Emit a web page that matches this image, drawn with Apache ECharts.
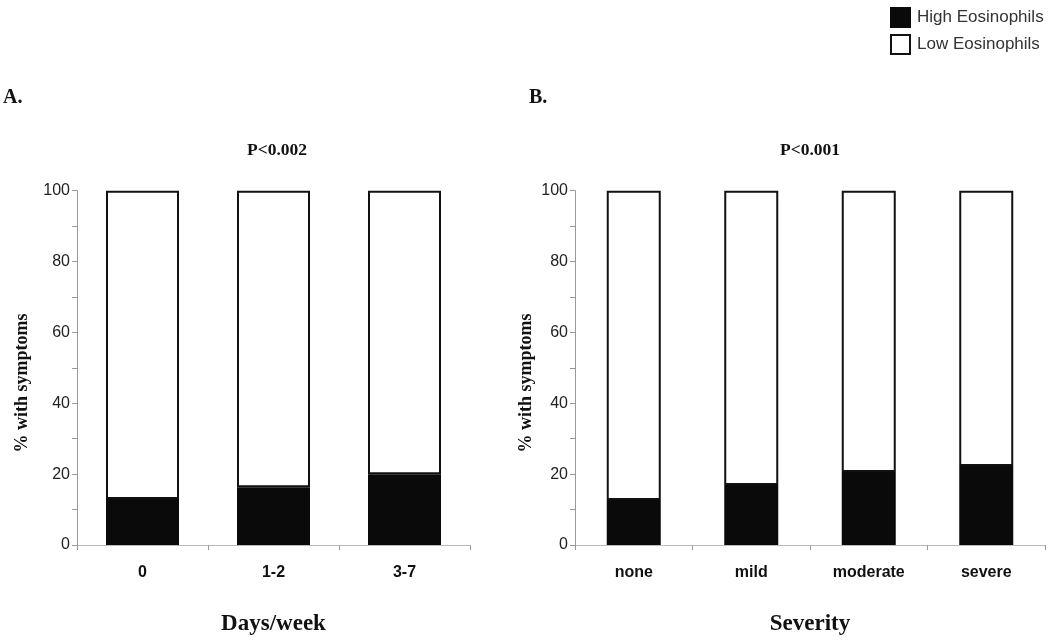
<!DOCTYPE html>
<html>
<head>
<meta charset="utf-8">
<script src="https://cdn.jsdelivr.net/npm/echarts@6/dist/echarts.min.js"></script>
<style>html,body{margin:0;padding:0;background:#fff}#c{width:1050px;height:641px}</style>
</head>
<body>
<div id="c"></div>
<script>
const catsA = ['0', '1-2', '3-7'];
const catsB = ['none', 'mild', 'moderate', 'severe'];
const highA = [13.0, 16.3, 20.0];
const highB = [12.7, 16.9, 20.6, 22.3];
const totalA = [100, 100, 100];
const totalB = [100, 100, 100, 100];
const lowA = totalA.map((t, i) => +(t - highA[i]).toFixed(1));
const lowB = totalB.map((t, i) => +(t - highB[i]).toFixed(1));
const yTicks = [0, 20, 40, 60, 80, 100];

const chart = echarts.init(document.getElementById('c'));
const serif = '"Liberation Serif", "DejaVu Serif", serif';
const sans = '"Liberation Sans", Arial, sans-serif';

function yAxis(gi) {
  return {
    type: 'value', gridIndex: gi, min: 0, max: 100, interval: 10,
    axisLine: { show: true, lineStyle: { color: '#999', width: 1 } },
    axisTick: { show: true, length: 5, lineStyle: { color: '#999' } },
    splitLine: { show: false },
    axisLabel: {
      fontFamily: sans, fontSize: 16, color: '#222', margin: 7,
      formatter: v => yTicks.includes(v) ? String(v) : ''
    }
  };
}
function xAxis(gi, cats, name) {
  return {
    type: 'category', gridIndex: gi, data: cats,
    name: name, nameLocation: 'middle', nameGap: 68,
    nameTextStyle: { fontFamily: serif, fontWeight: 'bold', fontSize: 23, color: '#111' },
    axisLine: { show: true, lineStyle: { color: '#bbb', width: 1 } },
    axisTick: { show: true, length: 5, alignWithLabel: false, lineStyle: { color: '#999' } },
    axisLabel: { fontFamily: sans, fontWeight: 'bold', fontSize: 16, color: '#111', margin: 20 }
  };
}
function yName(x) {
  return {
    type: 'text', x: x, y: 383, rotation: Math.PI / 2,
    style: { text: '% with symptoms', font: 'bold 18px ' + serif, fill: '#111', textAlign: 'center', textVerticalAlign: 'middle' }
  };
}

chart.setOption({
  animation: false,
  backgroundColor: '#fff',
  title: [
    { text: 'A.', left: 3, top: 88, padding: 0, textStyle: { fontFamily: serif, fontWeight: 'bold', fontSize: 20, color: '#111' } },
    { text: 'B.', left: 529, top: 88, padding: 0, textStyle: { fontFamily: serif, fontWeight: 'bold', fontSize: 20, color: '#111' } },
    { text: 'P<0.002', left: 247, top: 141, padding: 0, textStyle: { fontFamily: serif, fontWeight: 'bold', fontSize: 17.5, color: '#111' } },
    { text: 'P<0.001', left: 780, top: 141, padding: 0, textStyle: { fontFamily: serif, fontWeight: 'bold', fontSize: 17.5, color: '#111' } }
  ],
  graphic: [yName(22), yName(526)],
  legend: {
    orient: 'vertical', left: 885, top: 2, itemWidth: 19, itemHeight: 19, itemGap: 6,
    icon: 'rect',
    data: ['High Eosinophils', 'Low Eosinophils'],
    textStyle: { fontFamily: sans, fontSize: 17, color: '#333', padding: [0, 0, 0, 2] }
  },
  grid: [
    { left: 77, top: 190.7, width: 393, height: 356.8 },
    { left: 575, top: 190.7, width: 470, height: 356.8 }
  ],
  xAxis: [xAxis(0, catsA, 'Days/week'), xAxis(1, catsB, 'Severity')],
  yAxis: [yAxis(0), yAxis(1)],
  series: [
    { name: 'High Eosinophils', type: 'bar', stack: 'a', xAxisIndex: 0, yAxisIndex: 0, barWidth: 73, data: highA,
      itemStyle: { color: '#0a0a0a', borderColor: '#0a0a0a', borderWidth: 1.5 } },
    { name: 'Low Eosinophils', type: 'bar', stack: 'a', xAxisIndex: 0, yAxisIndex: 0, barWidth: 73, data: lowA,
      itemStyle: { color: '#fff', borderColor: '#111', borderWidth: 2 } },
    { name: 'High Eosinophils', type: 'bar', stack: 'b', xAxisIndex: 1, yAxisIndex: 1, barWidth: 54, data: highB,
      itemStyle: { color: '#0a0a0a', borderColor: '#0a0a0a', borderWidth: 1.5 } },
    { name: 'Low Eosinophils', type: 'bar', stack: 'b', xAxisIndex: 1, yAxisIndex: 1, barWidth: 54, data: lowB,
      itemStyle: { color: '#fff', borderColor: '#111', borderWidth: 2 } }
  ]
});
</script>
</body>
</html>
